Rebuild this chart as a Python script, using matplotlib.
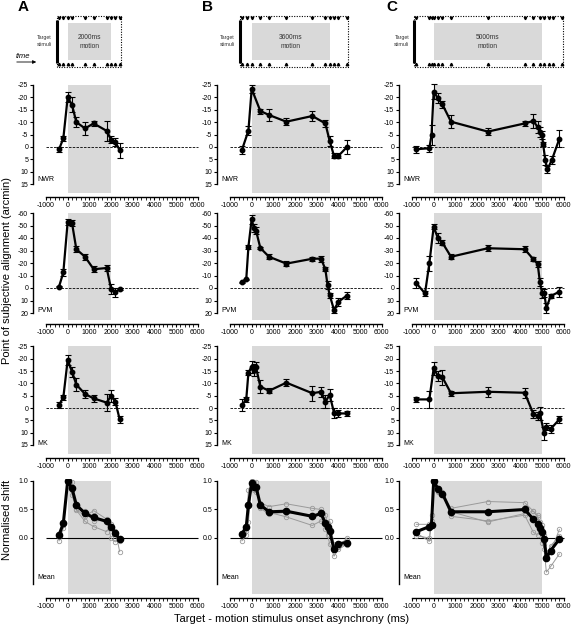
import numpy as np
import matplotlib
matplotlib.use('Agg')
import matplotlib.pyplot as plt
from matplotlib.patches import Rectangle

plt.rcParams['font.family'] = ['Liberation Sans', 'DejaVu Sans']
plt.rcParams['axes.unicode_minus'] = False

########################################################################
#   Data (ms, arcmin / normalised shift)           #
########################################################################

# column A : 2000 ms motion
a_targets = [-400, -200, 0, 200, 800, 1200, 1800, 2000, 2200, 2400]
a_x = [-400, -200, 0, 200, 400, 800, 1200, 1800, 2000, 2200, 2400]
a_nwr_y = [1, -3.5, -20, -17, -10, -7.5, -9.5, -6.5, -3, -2, 1.3]
a_nwr_e = [1, 1, 2, 3, 2, 2.5, 1, 4, 1.5, 1.5, 3]
a_pvm_y = [-1, -12.5, -53, -52, -31, -25, -15, -16, 0.5, 3.5, 0.8]
a_pvm_e = [0.5, 2.5, 2.5, 2.5, 2.5, 2.5, 2.5, 2.5, 4, 3.5, 0.8]
a_mk_y = [-1.2, -4.3, -19.5, -14.8, -9.5, -5.7, -3.9, -2.2, -4.9, -2.6, 4.6]
a_mk_e = [1.2, 1, 2, 2, 2.5, 1.5, 1.5, 3.5, 2.5, 1.5, 1.5]
a_mean = [0.05, 0.26, 1.0, 0.87, 0.58, 0.43, 0.36, 0.29, 0.2, 0.08, -0.02]
a_grey1 = [-0.05, 0.17, 1.0, 0.85, 0.5, 0.38, 0.48, 0.33, 0.17, 0.1, -0.05]
a_grey2 = [0.02, 0.24, 1.0, 0.98, 0.58, 0.47, 0.3, 0.31, 0.0, -0.07, -0.02]
a_grey3 = [0.06, 0.22, 1.0, 0.76, 0.49, 0.29, 0.2, 0.11, 0.25, 0.13, -0.24]

# column B : 3600 ms motion
b_targets = [-450, -200, 0, 400, 800, 1600, 2800, 3400, 3600, 3800, 4000, 4400]
b_nwr_x = [-450, -150, 0, 400, 800, 1600, 2800, 3400, 3600, 3800, 4000, 4400]
b_nwr_y = [1.2, -6.6, -23.4, -14.5, -12.9, -10.2, -12.5, -9.5, -2.4, 3.6, 3.6, 0]
b_nwr_e = [1.5, 1.8, 1.5, 1, 2.5, 1.3, 2, 1.5, 2, 1, 1, 3]
b_pvm_x = [-450, -250, -150, 0, 100, 200, 400, 800, 1600, 2800, 3200, 3400, 3500, 3600, 3800, 4000, 4400]
b_pvm_y = [-4.6, -7, -33, -55, -48, -46, -32, -25, -19.5, -23.4, -23.5, -15, -2.6, 5.6, 17.6, 11, 6]
b_pvm_e = [0.5, 0.5, 1.5, 3.5, 3, 3, 1, 2, 2, 1.5, 2.5, 1.5, 3, 2, 2.5, 3, 2.5]
b_mk_x = [-450, -250, -150, 0, 100, 200, 400, 800, 1600, 2800, 3200, 3400, 3600, 3800, 4000, 4400]
b_mk_y = [-1.2, -3.5, -14.4, -16.8, -15.5, -16.5, -8.7, -7, -10.3, -6, -6.6, -2.6, -5.3, 1.9, 2.2, 2.2]
b_mk_e = [2.5, 1, 1, 2.5, 2.5, 2, 2.5, 1, 1.5, 3, 2, 2.5, 2.5, 2, 1.5, 1]
b_mean_x = [-450, -250, -150, 0, 100, 200, 400, 800, 1600, 2800, 3200, 3400, 3500, 3600, 3800, 4000, 4400]
b_mean = [0.07, 0.2, 0.58, 0.97, 0.9, 0.9, 0.58, 0.46, 0.47, 0.38, 0.43, 0.26, 0.2, 0.12, -0.2, -0.1, -0.08]
b_grey1 = [-0.05, 0.05, 0.28, 1.0, 0.85, 0.8, 0.62, 0.55, 0.6, 0.52, 0.5, 0.41, 0.25, 0.1, -0.15, -0.15, 0.0]
b_grey2 = [0.08, 0.13, 0.6, 1.0, 0.87, 0.84, 0.58, 0.45, 0.37, 0.22, 0.3, 0.27, 0.05, -0.1, -0.32, -0.2, -0.11]
b_grey3 = [0.07, 0.2, 0.85, 0.9, 0.98, 0.98, 0.52, 0.42, 0.45, 0.38, 0.42, 0.15, 0.25, 0.3, -0.11, -0.13, -0.13]

# column C : 5000 ms motion
c_targets = [-800, -200, -100, 0, 200, 400, 800, 2500, 4200, 4600, 4900, 5100, 5300, 5500, 5900]
c_nwr_x = [-800, -200, -100, 0, 200, 400, 800, 2500, 4200, 4600, 4800, 4900, 5000, 5050, 5150, 5250, 5450, 5800]
c_nwr_y = [0.9, 0.5, -4.8, -22.3, -19.6, -17.2, -10.2, -6.2, -9.5, -10.5, -8, -6.2, -4.8, -1.2, 5.3, 9, 5.3, -3.3]
c_nwr_e = [1.5, 1.5, 4, 3, 2, 1.5, 2.5, 1.5, 1, 3, 2.5, 2, 1.5, 1, 2, 1.5, 1.5, 3.5]
c_pvm_x = [-800, -400, -200, 0, 200, 400, 800, 2500, 4200, 4600, 4800, 4900, 5000, 5100, 5200, 5400, 5800]
c_pvm_y = [-3.8, 4.3, -19.7, -49, -39.7, -36.3, -25, -31.8, -31, -23, -19.2, -5, 3.8, 3.8, 16, 6.4, 3]
c_pvm_e = [4, 2, 6, 2, 4, 2, 2, 2.5, 2.5, 1.5, 2.5, 3, 4, 3, 4, 1.5, 4]
c_mk_x = [-800, -200, 0, 200, 400, 800, 2500, 4200, 4600, 4800, 4900, 5100, 5200, 5400, 5800]
c_mk_y = [-3.5, -3.5, -16.1, -13, -12.5, -6, -6.6, -6.2, 2.4, 3.3, 2.2, 10.3, 7.6, 8.5, 4.6]
c_mk_e = [1, 3.5, 2.5, 2, 3, 1, 2, 2, 1.5, 1.5, 2.5, 2.5, 1.5, 1.5, 1.5]
c_mean_x = [-800, -200, -100, 0, 200, 400, 800, 2500, 4200, 4600, 4800, 4900, 5000, 5100, 5200, 5400, 5800]
c_mean = [0.11, 0.2, 0.23, 1.0, 0.86, 0.78, 0.46, 0.46, 0.5, 0.33, 0.25, 0.18, 0.1, -0.02, -0.35, -0.22, -0.02]
c_grey1 = [0.04, 0.0, 0.22, 1.0, 0.88, 0.77, 0.46, 0.28, 0.43, 0.47, 0.36, 0.28, 0.22, 0.05, -0.24, -0.24, 0.15]
c_grey2 = [0.09, -0.06, 0.4, 1.0, 0.8, 0.76, 0.52, 0.64, 0.62, 0.47, 0.4, 0.12, -0.08, -0.1, -0.3, -0.14, 0.04]
c_grey3 = [0.24, 0.24, 0.3, 1.0, 0.82, 0.8, 0.38, 0.3, 0.4, 0.1, 0.05, 0.12, 0.08, -0.2, -0.6, -0.5, -0.28]

x_ticks = [-1000, 0, 1000, 2000, 3000, 4000, 5000, 6000]

########################################################################
#   Layout (pixel based)                                               #
########################################################################
W, H = 574, 627
XL = (-1600, 6100)
SC = 0.02167                      # px per ms
AXW = (XL[1] - XL[0]) * SC
GREY = '#d9d9d9'

fig = plt.figure(figsize=(W / 100, H / 100), dpi=100)

def add_ax(left, top, width, height):
    ax = fig.add_axes([left / W, 1 - (top + height) / H, width / W, height / H])
    ax.patch.set_alpha(0)
    return ax

cols = [
    dict(x0=33, dur=2000, letter='A', lx=18, targets=a_targets,
         subj=[(a_x, a_nwr_y, a_nwr_e), (a_x, a_pvm_y, a_pvm_e), (a_x, a_mk_y, a_mk_e)],
         mean_x=a_x, mean=a_mean, greys=[a_grey1, a_grey2, a_grey3]),
    dict(x0=217, dur=3600, letter='B', lx=202, targets=b_targets,
         subj=[(b_nwr_x, b_nwr_y, b_nwr_e), (b_pvm_x, b_pvm_y, b_pvm_e), (b_mk_x, b_mk_y, b_mk_e)],
         mean_x=b_mean_x, mean=b_mean, greys=[b_grey1, b_grey2, b_grey3]),
    dict(x0=399, dur=5000, letter='C', lx=386, targets=c_targets,
         subj=[(c_nwr_x, c_nwr_y, c_nwr_e), (c_pvm_x, c_pvm_y, c_pvm_e), (c_mk_x, c_mk_y, c_mk_e)],
         mean_x=c_mean_x, mean=c_mean, greys=[c_grey1, c_grey2, c_grey3]),
]

# top px, bottom px, ylim, ticks, spine bounds, shading range, label y
rows = [
    dict(name='NWR', top=83, bot=197, ylim=(20.16, -25.8), ticks=np.arange(-25, 16, 5),
         bounds=(15, -25), shade=(18.5, -25), ly=13.3),
    dict(name='PVM', top=210, bot=324, ylim=(28.8, -62.4), ticks=np.arange(-60, 21, 10),
         bounds=(20, -60), shade=(25.6, -60), ly=17.6),
    dict(name='MK', top=345, bot=458, ylim=(20.3, -25.6), ticks=np.arange(-25, 16, 5),
         bounds=(15, -25), shade=(18.7, -25), ly=14.6),
    dict(name='Mean', top=479, bot=598, ylim=(-1.053, 1.035), ticks=[0, 0.5, 1.0],
         bounds=(-0.8, 1.0), shade=(-0.98, 1.0), ly=-0.7),
]

def style_axis(ax, r):
    ax.set_xlim(XL)
    ax.set_ylim(r['ylim'])
    for s in ['top', 'right']:
        ax.spines[s].set_visible(False)
    ax.spines['left'].set_bounds(*r['bounds'])
    ax.spines['bottom'].set_bounds(x_ticks[0], x_ticks[-1])
    ax.spines['left'].set_linewidth(1.0)
    ax.spines['bottom'].set_linewidth(1.0)
    ax.set_yticks(r['ticks'])
    if r['name'] == 'Mean':
        ax.set_yticklabels(['%.1f' % t for t in r['ticks']])
    else:
        ax.set_yticklabels(['%d' % t for t in r['ticks']])
    ax.set_xticks(x_ticks)
    ax.set_xticklabels(['%d' % t for t in x_ticks])
    ax.set_xticks(np.arange(x_ticks[0], x_ticks[-1] + 1, 200), minor=True)
    ax.tick_params(axis='both', which='major', labelsize=5, length=2.5, width=0.8, pad=1)
    ax.tick_params(axis='x', which='minor', length=2, width=0.6)

for c in cols:
    x0 = c['x0']
    px2ms = lambda px, x0=x0: (px - x0) / SC + XL[0]

    # ---- schematic ----
    sx = add_ax(x0, 8, AXW, 64)
    sx.set_xlim(XL)
    sx.set_ylim(72, 8)
    sx.axis('off')
    t = c['targets']
    left, right = t[0] - 100, t[-1] + 50
    sx.plot([left, right, right, left, left], [15.7, 15.7, 66.7, 66.7, 15.7],
            color='k', lw=0.8, ls=(0, (1, 1.3)))
    sx.add_patch(Rectangle((0, 23.3), c['dur'], 36.7, color=GREY, lw=0))
    sx.plot([left, left], [20, 62.5], color='k', lw=2.2, solid_capstyle='butt')
    sx.plot(t, [18.3] * len(t), 'v', color='k', ms=1.8)
    sx.plot(t, [64.0] * len(t), '^', color='k', ms=1.8)
    sx.text(c['dur'] / 2, 42, '%dms\nmotion' % c['dur'], ha='center', va='center',
            fontsize=4.8, linespacing=1.5, color='#333333')
    sx.text(left - 5 / SC, 41, 'Target\nstimuli', ha='right', va='center',
            fontsize=3.8, linespacing=1.4, color='#333333', clip_on=False)
    if c['letter'] == 'A':
        sx.annotate('', xy=(px2ms(39), 62), xytext=(px2ms(14), 62),
                    arrowprops=dict(arrowstyle='-|>', lw=0.6, color='k', mutation_scale=5),
                    annotation_clip=False)
        sx.text(px2ms(23), 56.5, 'time', fontsize=5.5, style='italic',
                ha='center', va='center', clip_on=False)
    fig.text(c['lx'] / W, 1 - 7 / H, c['letter'], fontsize=11, fontweight='bold',
             ha='left', va='center')

    # ---- data panels ----
    for i, r in enumerate(rows):
        ax = add_ax(x0, r['top'], AXW, r['bot'] - r['top'])
        style_axis(ax, r)
        ax.fill_between([0, c['dur']], r['shade'][0], r['shade'][1], color=GREY, lw=0, zorder=0)
        if r['name'] == 'Mean':
            ax.hlines(0, x_ticks[0], x_ticks[-1], color='k', lw=0.8, zorder=1)
            for g in c['greys']:
                ax.plot(c['mean_x'], g, '-o', color='#9a9a9a', lw=0.7, ms=3.2,
                        mfc='none', mec='#9a9a9a', mew=0.6, zorder=2)
            ax.plot(c['mean_x'], c['mean'], '-o', color='k', lw=2.2, ms=4.5, zorder=3)
        else:
            ax.hlines(0, x_ticks[0], x_ticks[-1], color='k', lw=0.6, ls=(0, (3, 1.5)), zorder=1)
            xs, ys, es = c['subj'][i]
            ax.errorbar(xs, ys, yerr=es, fmt='-o', color='k', lw=1.6, ms=3.2,
                        elinewidth=0.8, capsize=2, capthick=0.8, zorder=3)
        ax.text(XL[0] + 190, r['ly'], r['name'], fontsize=5, ha='left', va='center')

fig.text(7 / W, 1 - 270 / H, 'Point of subjective alignment (arcmin)', rotation=90,
         fontsize=8, ha='center', va='center')
fig.text(7 / W, 1 - 520 / H, 'Normalised shift', rotation=90,
         fontsize=8, ha='center', va='center')
fig.text(292 / W, 1 - 619 / H, 'Target - motion stimulus onset asynchrony (ms)',
         fontsize=8, ha='center', va='center')

fig.savefig('out.png', dpi=100)
